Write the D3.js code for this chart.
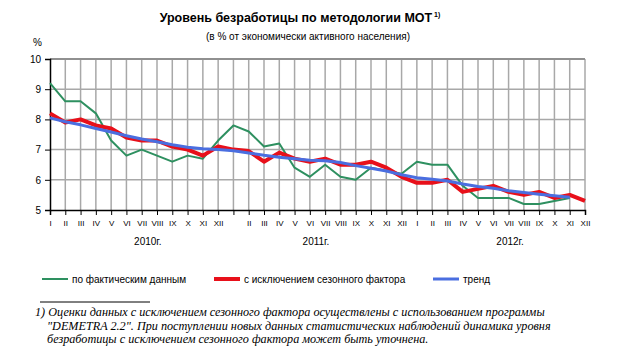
<!DOCTYPE html>
<html><head><meta charset="utf-8">
<script src="https://cdn.jsdelivr.net/npm/d3@7"></script>
<style>
html,body{margin:0;padding:0;background:#fff;}
svg{display:block;font-family:Arial,"Liberation Sans",sans-serif;}
</style></head>
<body><svg id="c" width="624" height="361"></svg>
<script>
const monthLabels = ["I","II","III","IV","V","VI","VII","VIII","IX","X","XI","XII",
                     "","II","III","IV","V","VI","VII","VIII","IX","X","XI","XII",
                     "I","II","III","IV","V","VI","VII","VIII","IX","X","XI","XII"];
const years = ["2010г.","2011г.","2012г."];
const yearPos = [6.4, 17.4, 30.1];
const yTicks = [5,6,7,8,9,10];
const actual = [9.2,8.6,8.6,8.2,7.3,6.8,7.0,6.8,6.6,6.8,6.7,7.3,
                7.8,7.6,7.1,7.2,6.4,6.1,6.5,6.1,6.0,6.4,6.3,6.2,
                6.6,6.5,6.5,5.8,5.4,5.4,5.4,5.2,5.2,5.3,5.4,null];
const seasonal = [8.2,7.9,8.0,7.8,7.7,7.4,7.3,7.3,7.1,7.0,6.8,7.1,
                  7.0,6.95,6.6,6.9,6.7,6.6,6.7,6.5,6.5,6.6,6.4,6.1,
                  5.9,5.9,6.0,5.6,5.7,5.8,5.6,5.5,5.6,5.4,5.5,5.3];
const trend = [8.05,7.92,7.82,7.7,7.58,7.46,7.35,7.26,7.16,7.08,7.03,7.0,
               6.96,6.89,6.81,6.75,6.7,6.65,6.63,6.57,6.47,6.38,6.29,6.17,
               6.07,6.02,5.96,5.86,5.78,5.72,5.64,5.58,5.52,5.47,5.42,null];
const seriesNames = ["по фактическим данным","с исключением сезонного фактора","тренд"];
const colors = ["#2e9060","#e8101a","#4a6ee0"];
const widths = [2, 4, 3];

const svg = d3.select("#c");
const x = d3.scaleLinear().domain([0,35]).range([50,585]);
const y = d3.scaleLinear().domain([5,10]).range([210,59]);

// title
const t = svg.append("text").attr("x",300).attr("y",22).attr("text-anchor","middle")
  .attr("font-size",12.5).attr("font-weight","bold").attr("fill","#000");
t.append("tspan").text("Уровень безработицы по методологии МОТ");
t.append("tspan").attr("font-size",7).attr("dy",-5).text(" 1)");
svg.append("text").attr("x",308).attr("y",40).attr("text-anchor","middle")
  .attr("font-size",10).text("(в  % от экономически активного населения)");
svg.append("text").attr("x",33).attr("y",46).attr("font-size",10).text("%");

// grid
const idx = d3.range(36);
svg.append("g").selectAll("line").data(idx.slice(1)).join("line")
  .attr("x1",d=>x(d)).attr("x2",d=>x(d)).attr("y1",y(10)).attr("y2",y(5))
  .attr("stroke","#a8a8a8").attr("stroke-width",1.5);
svg.append("g").selectAll("line").data(yTicks.slice(1)).join("line")
  .attr("x1",x(0)).attr("x2",x(35)).attr("y1",d=>y(d)).attr("y2",d=>y(d))
  .attr("stroke",d=>d===10?"#909090":"#a8a8a8").attr("stroke-width",d=>d===10?2:1.5);

// axes
const yAxis = d3.axisLeft(y).tickValues(yTicks).tickSize(5).tickFormat(d3.format("d"));
const gy = svg.append("g").attr("transform",`translate(${x(0)},0)`).call(yAxis);
gy.select(".domain").attr("stroke","#000").attr("stroke-width",1.5);
gy.selectAll(".tick line").attr("stroke","#000");
gy.selectAll(".tick text").attr("font-size",10).attr("font-family","Arial,'Liberation Sans',sans-serif").attr("x",-9);

const xAxis = d3.axisBottom(x).tickValues(idx).tickSize(5).tickFormat(d=>monthLabels[d]);
const gx = svg.append("g").attr("transform",`translate(0,${y(5)})`).call(xAxis);
gx.select(".domain").attr("stroke","#000").attr("stroke-width",1.5);
gx.selectAll(".tick line").attr("stroke","#000");
gx.selectAll(".tick text").attr("font-size",8).attr("font-family","Arial,'Liberation Sans',sans-serif").attr("y",10);

svg.append("g").selectAll("text").data(years).join("text")
  .attr("x",(d,i)=>x(yearPos[i])).attr("y",245).attr("text-anchor","middle")
  .attr("font-size",10).text(d=>d);

// lines
const line = d3.line().defined(d=>d!=null).x((d,i)=>x(i)).y(d=>y(d));
[actual, seasonal, trend].forEach((s,k)=>{
  svg.append("path").datum(s).attr("d",line).attr("fill","none")
    .attr("stroke",colors[k]).attr("stroke-width",widths[k])
    .attr("stroke-linejoin","round");
});

// legend
const legX = [42, 214, 433];
const lg = svg.append("g");
seriesNames.forEach((n,k)=>{
  lg.append("line").attr("x1",legX[k]).attr("x2",legX[k]+26).attr("y1",279).attr("y2",279)
    .attr("stroke",colors[k]).attr("stroke-width",widths[k]);
  lg.append("text").attr("x",legX[k]+30).attr("y",282.5).attr("font-size",10).text(n);
});

// footnote
svg.append("line").attr("x1",40).attr("x2",150).attr("y1",302).attr("y2",302).attr("stroke","#000").attr("stroke-width",1);
const foot = ["1) Оценки данных с исключением сезонного фактора осуществлены с использованием программы",
              "\"DEMETRA 2.2\". При поступлении новых данных статистических наблюдений динамика уровня",
              "безработицы с исключением сезонного фактора может быть уточнена."];
const footX = [35, 47, 47];
svg.append("g").selectAll("text").data(foot).join("text")
  .attr("x",(d,i)=>footX[i]).attr("y",(d,i)=>316+i*13.5)
  .attr("font-family","'Liberation Serif','DejaVu Serif',serif").attr("font-style","italic")
  .attr("font-size",12.2).text(d=>d);
</script>
</body></html>
